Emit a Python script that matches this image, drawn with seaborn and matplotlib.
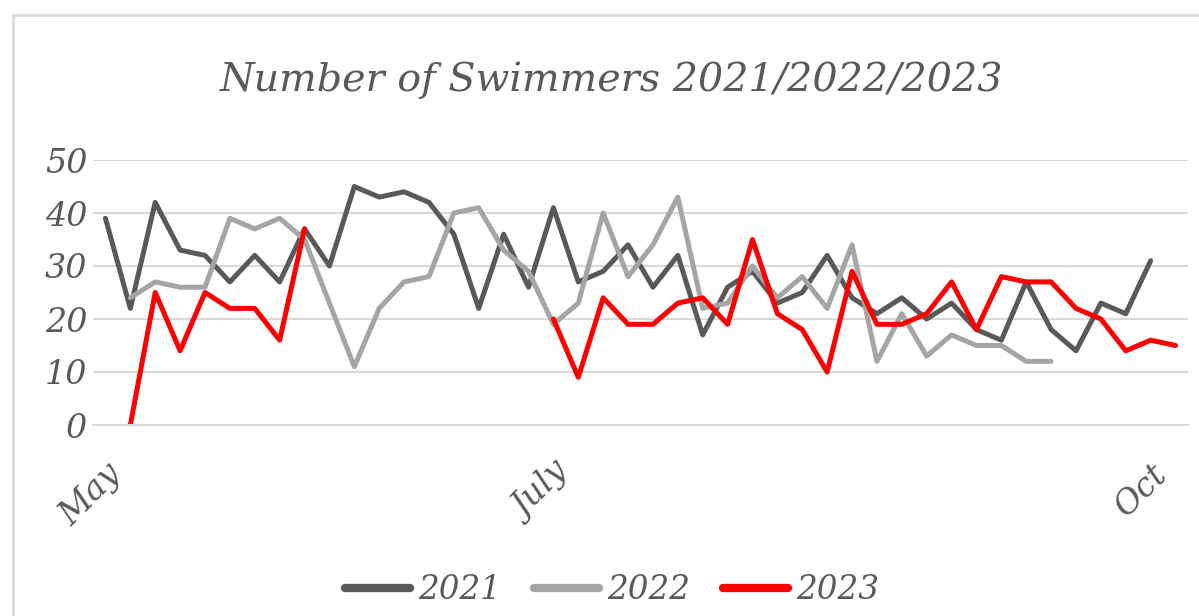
import numpy as np
import pandas as pd
import matplotlib
matplotlib.use("Agg")
import matplotlib.pyplot as plt
import matplotlib.transforms as mtransforms
import seaborn as sns
from matplotlib.lines import Line2D
from matplotlib.patches import Rectangle

# ---- data ----
weeks = list(range(44))
tick_positions = [0, 18, 42]
tick_labels = ["May", "July", "Oct"]
years = ["2021", "2022", "2023"]

s2021 = [39, 22, 42, 33, 32, 27, 32, 27, 37, 30, 45, 43, 44, 42, 36, 22, 36, 26, 41, 27,
         29, 34, 26, 32, 17, 26, 29, 23, 25, 32, 24, 21, 24, 20, 23, 18, 16, 27, 18, 14,
         23, 21, 31, None]
s2022 = [None, 24, 27, 26, 26, 39, 37, 39, 35, 23, 11, 22, 27, 28, 40, 41, 33, 29, 19, 23,
         40, 28, 34, 43, 22, 23, 30, 24, 28, 22, 34, 12, 21, 13, 17, 15, 15, 12, 12, None,
         None, None, None, None]
s2023 = [None, 0, 25, 14, 25, 22, 22, 16, 37, None, None, None, None, None, None, None, None, None,
         20, 9, 24, 19, 19, 23, 24, 19, 35, 21, 18, 10, 29, 19, 19, 21, 27, 18, 28, 27,
         27, 22, 20, 14, 16, 15]

colors = {"2021": "#595959", "2022": "#A5A5A5", "2023": "#FF0000"}
text_color = "#595959"
grid_color = "#D9D9D9"

# long table with segments so gaps stay gaps
rows = []
for yr, vals in zip(years, [s2021, s2022, s2023]):
    seg = 0
    prev_none = True
    for w, v in zip(weeks, vals):
        if v is None:
            prev_none = True
            continue
        if prev_none:
            seg += 1
            prev_none = False
        rows.append({"week": w, "count": v, "year": yr, "seg": f"{yr}_{seg}"})
df = pd.DataFrame(rows)

sns.set_theme(style="white")
plt.rcParams["font.family"] = ["DejaVu Serif"]

fig = plt.figure(figsize=(11.99, 6.16), dpi=100)
ax = fig.add_axes([93 / 1199, 1 - 425 / 616, (1188 - 93) / 1199, (425 - 160) / 616])

sns.lineplot(data=df, x="week", y="count", hue="year", units="seg", estimator=None,
             palette=colors, linewidth=3.6, ax=ax, legend=False, sort=True)

ax.set_xlim(-0.5, 43.5)
ax.set_ylim(0, 50)
ax.set_yticks([0, 10, 20, 30, 40, 50])
ax.yaxis.grid(True, color=grid_color, linewidth=1.5)
ax.set_axisbelow(True)
for sp in ["top", "right", "left"]:
    ax.spines[sp].set_visible(False)
ax.spines["bottom"].set_color(grid_color)
ax.spines["bottom"].set_linewidth(1.5)

ax.set_xticks(tick_positions)
ax.set_xticklabels(tick_labels, rotation=45, ha="right", rotation_mode="anchor",
                   fontsize=24, style="italic", color=text_color)
shift = mtransforms.ScaledTranslation(-7 / 100, 0, fig.dpi_scale_trans)
for lab in ax.get_xticklabels():
    lab.set_transform(lab.get_transform() + shift)
ax.set_xticks(np.arange(-0.5, 44, 1), minor=True)
ax.tick_params(axis="x", which="major", length=0, pad=24)
ax.tick_params(axis="x", which="minor", length=8, width=1.2, color=grid_color, direction="out")
ax.tick_params(axis="y", length=0, pad=4)
for lab in ax.get_yticklabels():
    lab.set_fontsize(24)
    lab.set_style("italic")
    lab.set_color(text_color)
ax.set_xlabel("")
ax.set_ylabel("")

fig.text(612 / 1199, 1 - 80 / 616, "Number of Swimmers 2021/2022/2023", ha="center", va="center",
         fontsize=28.5, style="italic", color=text_color)

handles = [Line2D([0], [0], color=colors[y], linewidth=6) for y in years]
leg = fig.legend(handles, years, loc="center", bbox_to_anchor=(612 / 1199, 1 - 590 / 616),
                 ncol=3, frameon=False, handlelength=2.0, handletextpad=0.25, columnspacing=1.0,
                 prop={"size": 23.5, "style": "italic"})
for t in leg.get_texts():
    t.set_color(text_color)

fig.patches.append(Rectangle((13 / 1199, -0.1), 1.2, 1 - 15 / 616 + 0.1, transform=fig.transFigure,
                             fill=False, edgecolor=grid_color, linewidth=2))

fig.savefig("out.png", dpi=100, facecolor="white")
